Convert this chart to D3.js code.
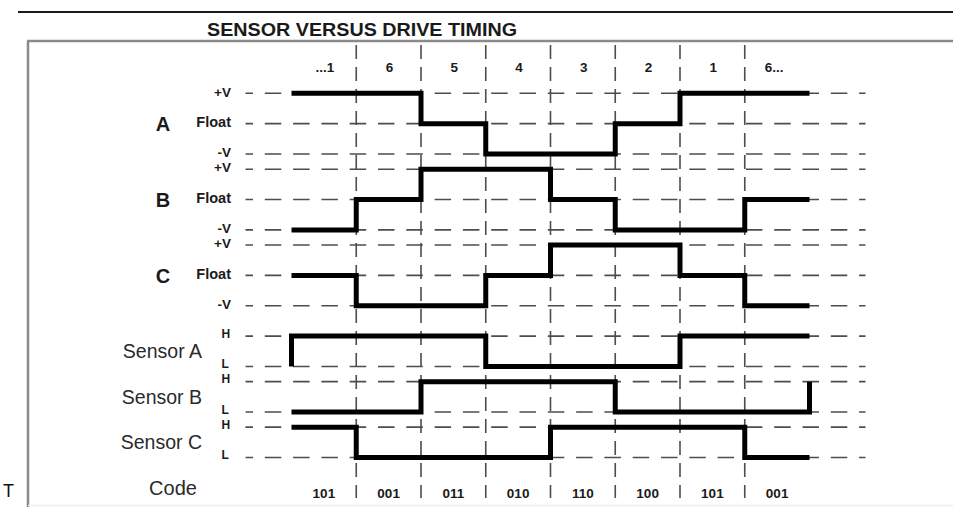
<!DOCTYPE html>
<html><head><meta charset="utf-8">
<script src="https://cdn.jsdelivr.net/npm/d3@7"></script>
<style>
body{margin:0;background:#fff;}
svg{display:block;font-family:"Liberation Sans",Arial,Helvetica,sans-serif;}
</style>
</head><body>
<svg id="chart" width="953" height="507"></svg>
<script>
// ---------------- data ----------------
const title = "SENSOR VERSUS DRIVE TIMING";
const steps = ["...1", "6", "5", "4", "3", "2", "1", "6..."];
const codes = ["101", "001", "011", "010", "110", "100", "101", "001"];
const driveLevels = ["+V", "Float", "-V"];
const sensorLevels = ["H", "L"];
const phaseA = ["+V", "+V", "Float", "-V", "-V", "Float", "+V", "+V"];
const phaseB = ["-V", "Float", "+V", "+V", "Float", "-V", "-V", "Float"];
const phaseC = ["Float", "-V", "-V", "Float", "+V", "+V", "Float", "-V"];
const sensorA = ["H", "H", "H", "L", "L", "L", "H", "H"];
const sensorB = ["L", "L", "H", "H", "H", "L", "L", "L"];
const sensorC = ["H", "L", "L", "L", "H", "H", "H", "L"];
const sensorAStart = "L";   // Sensor A enters from L at the left edge
const sensorBEnd = "H";     // Sensor B rises to H at the right edge
const footnote = "T";

// ---------------- layout ----------------
const svg = d3.select("#chart");
const nCols = steps.length;
const x = d3.scaleLinear().domain([0, nCols]).range([291.5, 809.5]);
const y = d3.scaleLinear().domain([0, 12]).range([93.3, 457.5]);

const signals = [
  {name: "A", kind: "drive", values: phaseA, slot: 0},
  {name: "B", kind: "drive", values: phaseB, slot: 2.5},
  {name: "C", kind: "drive", values: phaseC, slot: 5},
  {name: "Sensor A", kind: "sensor", values: sensorA, slot: 8, start: sensorAStart},
  {name: "Sensor B", kind: "sensor", values: sensorB, slot: 9.5, end: sensorBEnd},
  {name: "Sensor C", kind: "sensor", values: sensorC, slot: 11}
];
signals.forEach(s => {
  const lv = s.kind === "drive" ? driveLevels : sensorLevels;
  s.levels = lv;
  s.ly = v => y(s.slot + lv.indexOf(v));
});

const lineStart = x(0) - 46, lineEnd = x(nCols) + 56;
const frameTop = 41, frameLeft = 28;

// top rule and frame
svg.append("line").attr("x1", 18).attr("x2", 953).attr("y1", 12).attr("y2", 12)
  .attr("stroke", "#1a1a1a").attr("stroke-width", 2);
svg.append("line").attr("x1", frameLeft - 1).attr("x2", 953).attr("y1", frameTop).attr("y2", frameTop)
  .attr("stroke", "#8a8a8a").attr("stroke-width", 2.5);
svg.append("line").attr("x1", frameLeft).attr("x2", frameLeft).attr("y1", frameTop).attr("y2", 507)
  .attr("stroke", "#8a8a8a").attr("stroke-width", 2.5);
svg.append("line").attr("x1", frameLeft).attr("x2", 953).attr("y1", 505.5).attr("y2", 505.5)
  .attr("stroke", "#eeeeee").attr("stroke-width", 1.5);

// title
svg.append("text").attr("x", 207).attr("y", 36)
  .attr("font-size", 19).attr("font-weight", "bold").attr("fill", "#1a1a1a")
  .attr("textLength", 310).attr("lengthAdjust", "spacingAndGlyphs")
  .text(title);

// horizontal dashed level lines
const grid = svg.append("g");
signals.forEach(s => {
  s.levels.forEach(lv => {
    grid.append("line")
      .attr("x1", lineStart).attr("x2", lineEnd)
      .attr("y1", s.ly(lv)).attr("y2", s.ly(lv))
      .attr("stroke", "#4d4d4d").attr("stroke-width", 1.6)
      .attr("stroke-dasharray", "16.5,11.8").attr("stroke-dashoffset", 9);
  });
});

// vertical dashed dividers
d3.range(1, nCols).forEach(i => {
  grid.append("line")
    .attr("x1", x(i)).attr("x2", x(i))
    .attr("y1", frameTop + 4).attr("y2", 498)
    .attr("stroke", "#4d4d4d").attr("stroke-width", 1.6)
    .attr("stroke-dasharray", "14,8");
});

// waveforms
const line = d3.line().x(d => x(d[0])).y(d => d[1]).curve(d3.curveStepAfter);
signals.forEach(s => {
  const pts = [];
  if (s.start) pts.push([0, s.ly(s.start)]);
  s.values.forEach((v, i) => pts.push([i, s.ly(v)]));
  pts.push([nCols, s.ly(s.values[nCols - 1])]);
  if (s.end) pts.push([nCols, s.ly(s.end)]);
  svg.append("path").attr("d", line(pts))
    .attr("fill", "none").attr("stroke", "#000").attr("stroke-width", 5)
    .attr("stroke-linejoin", "miter").attr("stroke-linecap", "butt");
});

// labels
const lab = svg.append("g").attr("fill", "#1a1a1a");
signals.forEach(s => {
  if (s.kind === "drive") {
    lab.append("text").attr("x", 163).attr("y", y(s.slot + 1) + 7.5)
      .attr("text-anchor", "middle").attr("font-weight", "bold").attr("font-size", 20)
      .text(s.name);
    s.levels.forEach(lv => {
      lab.append("text").attr("x", 231).attr("y", s.ly(lv) + 3.2)
        .attr("text-anchor", "end").attr("font-weight", "bold")
        .attr("font-size", lv === "Float" ? 14.5 : 13.5)
        .text(lv);
    });
  } else {
    lab.append("text").attr("x", 202).attr("y", y(s.slot + 0.5) + 6.8)
      .attr("text-anchor", "end").attr("font-size", 19.5).attr("fill", "#2a2a2a")
      .text(s.name);
    s.levels.forEach(lv => {
      lab.append("text").attr("x", 221.5).attr("y", s.ly(lv) + 1.8)
        .attr("font-weight", "bold").attr("font-size", 12)
        .text(lv);
    });
  }
});

// column step labels
steps.forEach((t, i) => {
  lab.append("text").attr("x", x(i + 0.5) + (i === nCols - 1 ? -3 : 1)).attr("y", 72)
    .attr("text-anchor", "middle").attr("font-weight", "bold").attr("font-size", 13.5)
    .text(t);
});

// code row
lab.append("text").attr("x", 173).attr("y", 495).attr("text-anchor", "middle")
  .attr("font-size", 20).attr("fill", "#2a2a2a").text("Code");
codes.forEach((t, i) => {
  lab.append("text").attr("x", x(i + 0.5)).attr("y", 497.5)
    .attr("text-anchor", "middle").attr("font-weight", "bold").attr("font-size", 13.5)
    .text(t);
});

// footnote letter
svg.append("text").attr("x", 3).attr("y", 497).attr("font-size", 18).attr("fill", "#111")
  .text(footnote);
</script>
</body></html>
